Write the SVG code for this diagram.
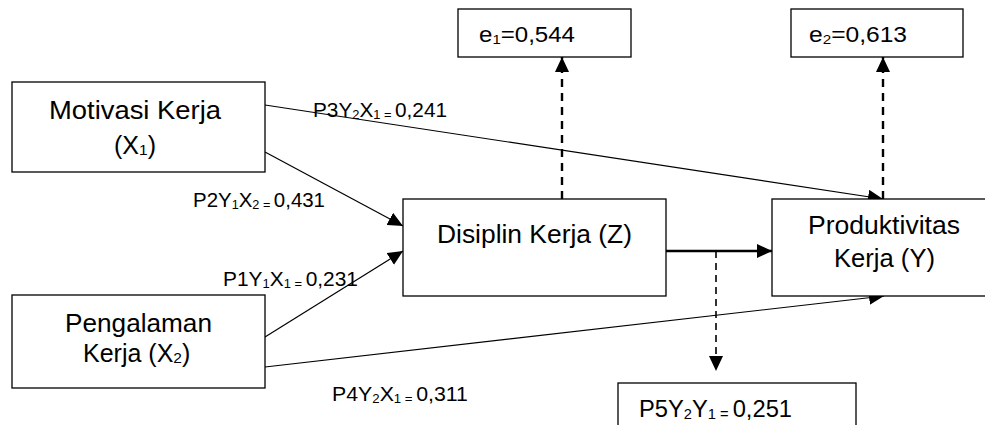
<svg xmlns="http://www.w3.org/2000/svg" width="985" height="425" viewBox="0 0 985 425">
<style>
.box{fill:#fff;stroke:#000;stroke-width:1.3}
.t{font-family:"Liberation Sans",Arial,sans-serif;fill:#000}
.n{font-size:25px}
.e{font-size:22px}
.l{font-size:20px}
.l5{font-size:23px}
.s{font-size:62%}
.ln{stroke:#000;stroke-width:1.2;fill:none}
.thick{stroke:#000;stroke-width:2.6;fill:none}
.dash{stroke:#000;stroke-width:2.4;stroke-dasharray:8 6;fill:none}
.dash2{stroke:#000;stroke-width:1.6;stroke-dasharray:7 5;fill:none}
</style>
<defs>
<marker id="ah" markerUnits="userSpaceOnUse" markerWidth="16" markerHeight="14" refX="15" refY="7" orient="auto">
<path d="M0,0 L15,7 L0,14 Z" fill="#000"/>
</marker>
</defs>
<g id="connectors">
<line class="ln" x1="265" y1="105" x2="883" y2="199" marker-end="url(#ah)"/>
<line class="ln" x1="265" y1="152" x2="403" y2="226" marker-end="url(#ah)"/>
<line class="ln" x1="265" y1="337" x2="403" y2="251" marker-end="url(#ah)"/>
<line class="ln" x1="265" y1="367" x2="884" y2="296" marker-end="url(#ah)"/>
<line class="thick" x1="666" y1="251" x2="772" y2="251" marker-end="url(#ah)"/>
<line class="dash" x1="562" y1="199" x2="562" y2="57" marker-end="url(#ah)"/>
<line class="dash" x1="883" y1="199" x2="883" y2="57" marker-end="url(#ah)"/>
<line class="dash2" x1="716" y1="251" x2="716" y2="371" marker-end="url(#ah)"/>
</g>
<g id="motivasi">
<rect class="box" x="12" y="82" width="253" height="90"/>
<text class="t n" x="49" y="119" textLength="172" lengthAdjust="spacingAndGlyphs">Motivasi Kerja</text>
<text class="t n" x="114" y="154">(X<tspan class="s" dy="1">1</tspan><tspan dy="-1">)</tspan></text>
</g>
<g id="pengalaman">
<rect class="box" x="12" y="295" width="253" height="93"/>
<text class="t n" x="65" y="332" textLength="147" lengthAdjust="spacingAndGlyphs">Pengalaman</text>
<text class="t n" x="83" y="362">Kerja (X<tspan class="s" dy="1">2</tspan><tspan dy="-1">)</tspan></text>
</g>
<g id="disiplin">
<rect class="box" x="403" y="199" width="263" height="97"/>
<text class="t n" x="437" y="243" textLength="195" lengthAdjust="spacingAndGlyphs">Disiplin Kerja (Z)</text>
</g>
<g id="produktivitas">
<rect class="box" x="772" y="199" width="230" height="97"/>
<text class="t n" x="808" y="234" textLength="152" lengthAdjust="spacingAndGlyphs">Produktivitas</text>
<text class="t n" x="834" y="267" textLength="101" lengthAdjust="spacingAndGlyphs">Kerja (Y)</text>
</g>
<g id="e1">
<rect class="box" x="458" y="9" width="173" height="48"/>
<text class="t e" x="479" y="42" textLength="96" lengthAdjust="spacingAndGlyphs">e<tspan class="s" dy="2">1</tspan><tspan dy="-2">=0,544</tspan></text>
</g>
<g id="e2">
<rect class="box" x="791" y="9" width="172" height="48"/>
<text class="t e" x="809" y="42" textLength="98" lengthAdjust="spacingAndGlyphs">e<tspan class="s" dy="2">2</tspan><tspan dy="-2">=0,613</tspan></text>
</g>
<g id="p5">
<rect class="box" x="618" y="383" width="238" height="60"/>
<text class="t l5" x="639" y="417" textLength="153" lengthAdjust="spacingAndGlyphs">P5Y<tspan class="s" dy="2">2</tspan><tspan dy="-2">Y</tspan><tspan class="s" dy="2">1 = </tspan><tspan dy="-2">0,251</tspan></text>
</g>
<g id="labels">
<text class="t l" x="313" y="117" textLength="134" lengthAdjust="spacingAndGlyphs">P3Y<tspan class="s" dy="2">2</tspan><tspan dy="-2">X</tspan><tspan class="s" dy="2">1 = </tspan><tspan dy="-2">0,241</tspan></text>
<text class="t l" x="193" y="207" textLength="132" lengthAdjust="spacingAndGlyphs">P2Y<tspan class="s" dy="2">1</tspan><tspan dy="-2">X</tspan><tspan class="s" dy="2">2 = </tspan><tspan dy="-2">0,431</tspan></text>
<text class="t l" x="223" y="286" textLength="135" lengthAdjust="spacingAndGlyphs">P1Y<tspan class="s" dy="2">1</tspan><tspan dy="-2">X</tspan><tspan class="s" dy="2">1 = </tspan><tspan dy="-2">0,231</tspan></text>
<text class="t l" x="332" y="401" textLength="136" lengthAdjust="spacingAndGlyphs">P4Y<tspan class="s" dy="2">2</tspan><tspan dy="-2">X</tspan><tspan class="s" dy="2">1 = </tspan><tspan dy="-2">0,311</tspan></text>
</g>
</svg>
